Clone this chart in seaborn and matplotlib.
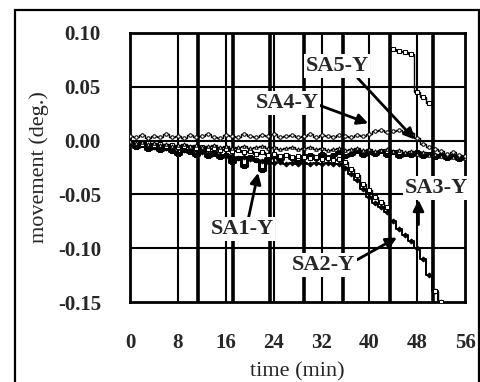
import numpy as np
import pandas as pd
import matplotlib
matplotlib.use("Agg")
import matplotlib.pyplot as plt
import seaborn as sns
from matplotlib.patches import Rectangle

sns.set_style("white")
plt.rcParams['font.family'] = ['Liberation Serif', 'DejaVu Serif']

time_min = [0, 1, 2, 3, 4, 5, 6, 7, 8, 9, 10, 11, 12, 13, 14, 15, 16, 17, 18, 19,
            20, 21, 22, 23, 24, 25, 26, 27, 28, 29, 30, 31, 32, 33, 34, 35, 36, 37, 38, 39,
            40, 41, 42, 43, 44, 45, 46, 47, 48, 49, 50, 51, 52, 53, 54, 55, 56]

sa4_y = [0.004, 0.003, 0.005, 0.002, 0.004, 0.003, 0.006, 0.003, 0.004, 0.002,
         0.005, 0.003, 0.004, 0.006, 0.003, 0.002, 0.005, 0.004, 0.003, 0.006,
         0.004, 0.003, 0.005, 0.004, 0.006, 0.003, 0.004, 0.005, 0.003, 0.004,
         0.006, 0.003, 0.005, 0.004, 0.003, 0.005, 0.004, 0.003, 0.005, 0.004,
         0.006, 0.009, 0.010, 0.008, 0.009, 0.010, 0.008, 0.007, 0.002, -0.003,
         -0.006, -0.008, -0.010, -0.012, -0.011, -0.013, -0.014]

sa5_y = [0.000, -0.002, -0.001, -0.003, -0.002, -0.004, -0.003, -0.005, -0.004, -0.003,
         -0.005, -0.004, -0.006, -0.005, -0.004, -0.006, -0.005, -0.007, -0.006, -0.005,
         -0.007, -0.006, -0.005, -0.007, -0.006, -0.008, -0.007, -0.006, -0.008, -0.007,
         -0.006, -0.008, -0.007, -0.009, -0.008, -0.007, -0.009, -0.008, -0.007, -0.009,
         -0.008, -0.010, -0.009, -0.008, -0.010, -0.009, -0.011, -0.010, -0.012, -0.011,
         -0.013, -0.012, -0.014, -0.013, -0.015, -0.014, -0.016]

sa1_y = [-0.003, -0.006, -0.004, -0.008, -0.006, -0.009, -0.007, -0.010, -0.012, -0.009,
         -0.011, -0.013, -0.010, -0.014, -0.012, -0.015, -0.013, -0.020, -0.016, -0.024,
         -0.015, -0.018, -0.027, -0.016, -0.014, -0.017, -0.013, -0.016, -0.020, -0.014,
         -0.013, -0.016, -0.012, -0.015, -0.013, -0.011, -0.014, -0.012, -0.010, -0.013,
         -0.011, -0.012, -0.010, -0.013, -0.011, -0.014, -0.012, -0.013, -0.011, -0.014,
         -0.012, -0.015, -0.013, -0.016, -0.014, -0.017, -0.015]

sa2_y = [-0.002, -0.004, -0.003, -0.005, -0.006, -0.005, -0.007, -0.008, -0.007, -0.009,
         -0.010, -0.009, -0.011, -0.012, -0.011, -0.013, -0.014, -0.015, -0.016, -0.015,
         -0.017, -0.018, -0.019, -0.020, -0.021, -0.020, -0.022, -0.021, -0.022, -0.021,
         -0.022, -0.021, -0.022, -0.021, -0.022, -0.022, -0.025, -0.031, -0.037, -0.045,
         -0.052, -0.058, -0.062, -0.066, -0.075, -0.082, -0.088, -0.093, -0.100, -0.110,
         -0.125, -0.140, -0.150, np.nan, np.nan, np.nan, np.nan]

sa3_y = [-0.001, -0.002, -0.003, -0.002, -0.004, -0.003, -0.005, -0.004, -0.006, -0.005,
         -0.006, -0.007, -0.006, -0.008, -0.007, -0.009, -0.008, -0.010, -0.009, -0.011,
         -0.010, -0.012, -0.011, -0.013, -0.012, -0.014, -0.013, -0.015, -0.014, -0.015,
         -0.016, -0.015, -0.017, -0.016, -0.018, -0.017, -0.020, -0.026, -0.032, -0.040,
         -0.046, -0.052, -0.057, -0.062, 0.085, 0.083, 0.082, 0.080, 0.045, 0.040,
         0.035, -0.140, -0.150, np.nan, np.nan, np.nan, np.nan]

event_times = [11.4, 17.2, 23.4, 29.0, 35.6, 43.5, 50.6]

x_ticks = [0, 8, 16, 24, 32, 40, 48, 56]
y_ticks = [-0.15, -0.10, -0.05, 0.00, 0.05, 0.10]

fig = plt.figure(figsize=(4.8, 3.82), dpi=100)
ax = fig.add_axes([0.271, 0.209, 0.698, 0.705])

fig.patches.append(Rectangle((0.032, -0.01), 0.966, 0.985, transform=fig.transFigure,
                             fill=False, edgecolor='black', linewidth=1.6))

for tx in x_ticks[1:-1]:
    ax.axvline(tx, color='black', lw=1.5, zorder=1)
for ty in y_ticks[1:-1]:
    ax.axhline(ty, color='black', lw=1.5, zorder=1)
for ev in event_times:
    ax.axvline(ev, color='black', lw=2.6, zorder=1)

series = [
    ("SA1-Y", sa1_y, dict(color='black', lw=2.2, marker='s', ms=3, mfc='black', mec='black')),
    ("SA2-Y", sa2_y, dict(color='black', lw=1.4, marker='D', ms=2.5, mfc='black', mec='black')),
    ("SA3-Y", sa3_y, dict(color='black', lw=1.0, marker='s', ms=3.5, mfc='white', mec='black')),
    ("SA5-Y", sa5_y, dict(color='black', lw=1.0, marker='^', ms=2.5, mfc='white', mec='black')),
    ("SA4-Y", sa4_y, dict(color='black', lw=1.0, marker='o', ms=2.5, mfc='white', mec='black')),
]
for name, vals, kw in series:
    df = pd.DataFrame({"time": time_min, "movement": vals}).dropna()
    sns.lineplot(data=df, x="time", y="movement", ax=ax, drawstyle='steps-mid',
                 estimator=None, zorder=3, **kw)

ax.set_xlim(0, 56)
ax.set_ylim(-0.15, 0.10)
ax.set_xticks(x_ticks)
ax.set_yticks(y_ticks)
ax.set_xticklabels([str(v) for v in x_ticks], fontsize=15, fontweight='bold')
ax.set_yticklabels([f"{v:.2f}" for v in y_ticks], fontsize=15, fontweight='bold')
ax.tick_params(axis='x', length=0, pad=22)
ax.tick_params(axis='y', length=0, pad=21)
for s in ax.spines.values():
    s.set_color('black')
    s.set_linewidth(2.0)
ax.set_xlabel("time (min)", fontsize=16, labelpad=7)
ax.set_ylabel("movement (deg.)", fontsize=16, labelpad=6)

bold = dict(fontsize=16, fontweight='bold', ha='center', va='center',
            bbox=dict(boxstyle='square,pad=0.08', fc='white', ec='none'))
arrow = dict(arrowstyle='-|>', color='black', lw=2.0, mutation_scale=16, shrinkA=0, shrinkB=0)
ax.annotate("SA5-Y", xy=(47.6, 0.001), xytext=(34.6, 0.069),
            arrowprops=dict(arrow, relpos=(0.8, 0.0)), zorder=5, **bold)
ax.annotate("SA4-Y", xy=(39.8, 0.016), xytext=(26.2, 0.035),
            arrowprops=dict(arrow, relpos=(1.0, 0.4)), zorder=5, **bold)
ax.annotate("SA1-Y", xy=(21.4, -0.030), xytext=(18.7, -0.082),
            arrowprops=dict(arrow, relpos=(0.6, 1.0)), zorder=5, **bold)
ax.annotate("SA2-Y", xy=(44.6, -0.090), xytext=(32.3, -0.1155),
            arrowprops=dict(arrow, relpos=(1.0, 0.7)), zorder=5, **bold)
ax.annotate("SA3-Y", xy=(48.2, -0.053), xytext=(51.2, -0.044), zorder=5, **bold)
ax.annotate("", xy=(48.2, -0.055), xytext=(48.2, -0.078), arrowprops=arrow, zorder=5)

fig.savefig("out.png", dpi=100)
